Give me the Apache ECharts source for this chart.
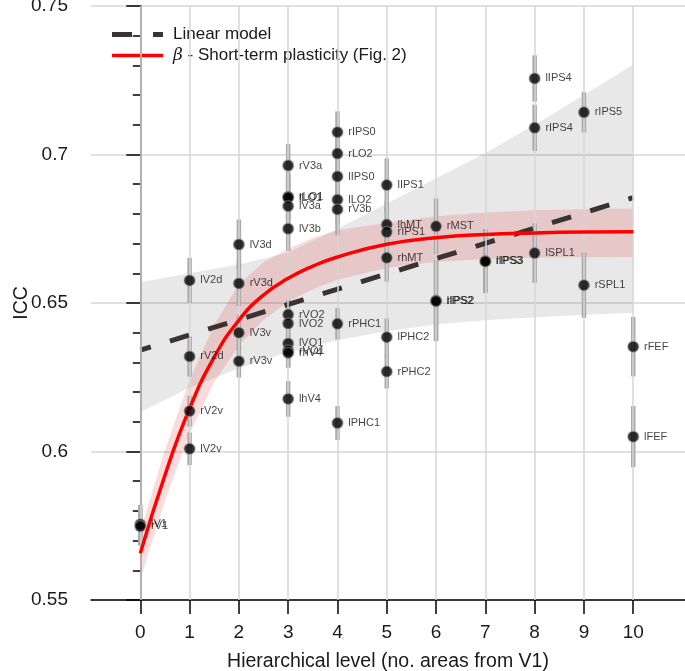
<!DOCTYPE html>
<html><head><meta charset="utf-8">
<script src="https://cdn.jsdelivr.net/npm/echarts@6/dist/echarts.min.js"></script>
<style>html,body{margin:0;padding:0;background:#fff}#c{width:685px;height:671px}</style>
</head><body><div id="c"></div>
<script>
// ---- data ----
const xTicks = [0,1,2,3,4,5,6,7,8,9,10];
const areaNames  = ['lV1','rV1','lV2d','rV2d','rV2v','lV2v','lV3d','rV3d','lV3v','rV3v',
  'rV3a','rLO1','lLO1','lV3a','lV3b','rVO2','lVO2','lVO1','rVO1','rhV4','lhV4',
  'rIPS0','rLO2','lIPS0','lLO2','rV3b','rPHC1','lPHC1',
  'lIPS1','lhMT','rIPS1','rhMT','lPHC2','rPHC2',
  'rMST','rIPS2','lIPS2','lIPS3','rIPS3',
  'lIPS4','rIPS4','lSPL1','rIPS5','rSPL1','rFEF','lFEF'];
const areaLevels = [0,0,1,1,1,1,2,2,2,2,
  3,3,3,3,3,3,3,3,3,3,3,
  4,4,4,4,4,4,4,
  5,5,5,5,5,5,
  6,6,6,7,7,
  8,8,8,9,9,10,10];
const areaICC = [0.5755,0.5748,0.6576,0.6320,0.6136,0.6009,0.6697,0.6566,0.6400,0.6304,
  0.6963,0.6858,0.6855,0.6826,0.6750,0.6461,0.6431,0.6364,0.6340,0.6332,0.6177,
  0.7075,0.7003,0.6926,0.6848,0.6815,0.6430,0.6096,
  0.6897,0.6764,0.6739,0.6652,0.6385,0.6269,
  0.6758,0.6508,0.6506,0.6641,0.6640,
  0.7256,0.7090,0.6668,0.7142,0.6560,0.6353,0.6050];
const areaCI = [0.0065,0.0065,0.0076,0.0068,0.0052,0.0055,0.0084,0.0076,0.0060,0.0055,
  0.0072,0.0075,0.0075,0.0075,0.0075,0.0050,0.0050,0.0050,0.0055,0.0050,0.0060,
  0.0070,0.0070,0.0070,0.0080,0.0087,0.0053,0.0057,
  0.0090,0.0080,0.0080,0.0080,0.0063,0.0057,
  0.0094,0.0137,0.0130,0.0108,0.0105,
  0.0078,0.0078,0.0100,0.0068,0.0110,0.0100,0.0103];
const linearX = [0, 10];
const linearY = [0.6341, 0.6855];
const linBandX = [0,1,2,3,4,5,6,7,8,9,10];
const linBandUpper = [0.6570,0.6600,0.6630,0.6670,0.6750,0.6835,0.6920,0.7005,0.7100,0.7200,0.7303];
const linBandLower = [0.6132,0.6215,0.6280,0.6335,0.6375,0.6405,0.6428,0.6442,0.6452,0.6460,0.6467];
const stpX     = [0,0.5,1,1.5,2,2.5,3,3.5,4,5,6,7,8,9,10];
const stpY     = [0.5657,0.5920,0.6145,0.6318,0.6442,0.6527,0.6583,0.6624,0.6655,0.6698,0.6720,0.6731,0.6736,0.6739,0.6740];
const stpUpper = [0.5730,0.6005,0.6240,0.6428,0.6562,0.6637,0.6683,0.6719,0.6745,0.6770,0.6792,0.6805,0.6812,0.6816,0.6818];
const stpLower = [0.5570,0.5835,0.6060,0.6233,0.6357,0.6444,0.6503,0.6546,0.6578,0.6618,0.6638,0.6648,0.6652,0.6654,0.6655];

const FONT = '"Liberation Sans", Arial, Helvetica, sans-serif';
const chart = echarts.init(document.getElementById('c'), null, {renderer:'canvas'});

function band(xs, up, lo, fill, z, extra) {
  return Object.assign({
    type: 'custom', z: z, silent: true, clip: true,
    data: [[xs[0], lo[0]]],
    renderItem: function (params, api) {
      const pts = [];
      for (let i = 0; i < xs.length; i++) pts.push(api.coord([xs[i], up[i]]));
      for (let i = xs.length - 1; i >= 0; i--) pts.push(api.coord([xs[i], lo[i]]));
      return {type: 'polygon', shape: {points: pts}, style: {fill: fill}};
    }
  }, extra || {});
}

const LEG2 = '{i|β} - Short-term plasticity (Fig. 2)';

chart.setOption({
  animation: false,
  textStyle: {fontFamily: FONT},
  grid: {left: 91, right: 0, top: 6, bottom: 71, outerBoundsMode: 'none', containLabel: false},
  legend: {
    left: 112, top: 26, padding: 0, orient: 'vertical', itemWidth: 51, itemHeight: 5, itemGap: 4,
    selectedMode: false,
    data: [
      {name: 'Linear model', icon: 'path://M0,0M0,5M0,0h20v5H0zM41,0h10v5H41z'},
      {name: 'STP', icon: 'path://M0,0M0,5M0,0.8h51v3.4H0z'}
    ],
    formatter: function (n) { return n === 'STP' ? LEG2 : n; },
    textStyle: {fontSize: 17, color: '#1a1a1a', fontFamily: FONT, padding: [0, 0, 0, 5],
      rich: {i: {fontSize: 17, fontStyle: 'italic', fontFamily: '"DejaVu Serif", serif', color: '#1a1a1a'}}}
  },
  xAxis: {
    type: 'value', min: -1, max: 11.05, interval: 1,
    name: 'Hierarchical level (no. areas from V1)', nameLocation: 'middle', nameGap: 52,
    nameMoveOverlap: false,
    nameTextStyle: {fontSize: 19.5, color: '#1a1a1a'},
    axisLine: {show: true, onZero: false, lineStyle: {color: '#000', width: 1.5}},
    axisTick: {show: true, length: 14, customValues: xTicks, lineStyle: {color: '#000', width: 1.5}},
    axisLabel: {customValues: xTicks, fontSize: 19, color: '#1a1a1a', margin: 23},
    splitLine: {show: false}
  },
  yAxis: {
    type: 'value', min: 0.55, max: 0.75, interval: 0.05,
    name: 'ICC', nameLocation: 'middle', nameGap: 59, nameRotate: 90,
    nameMoveOverlap: false,
    nameTextStyle: {fontSize: 19.5, color: '#1a1a1a'},
    axisLine: {show: true, lineStyle: {color: '#000', width: 1.5}},
    axisTick: {show: true, length: 14, lineStyle: {color: '#000', width: 1.5}},
    minorTick: {show: true, splitNumber: 5, length: 7.5, lineStyle: {color: '#000', width: 1.5}},
    axisLabel: {fontSize: 19, color: '#1a1a1a', margin: 23},
    splitLine: {show: true, lineStyle: {color: '#d6d6d6', width: 1.5}}
  },
  series: [
    band(linBandX, linBandUpper, linBandLower, 'rgba(0,0,0,0.09)', 1, {
      markLine: {silent: true, symbol: 'none', label: {show: false},
        lineStyle: {color: '#d6d6d6', width: 1.5, type: 'solid'},
        data: xTicks.map(v => ({xAxis: v}))}
    }),
    band(stpX, stpUpper, stpLower, 'rgba(220,0,0,0.14)', 2),
    {
      type: 'custom', z: 3, silent: true,
      data: areaLevels.map((x, i) => [x, areaICC[i] - areaCI[i], areaICC[i] + areaCI[i]]),
      encode: {x: 0, y: [1, 2]},
      renderItem: function (params, api) {
        const a = api.coord([api.value(0), api.value(1)]);
        const b = api.coord([api.value(0), api.value(2)]);
        return {type: 'line', shape: {x1: a[0], y1: a[1], x2: b[0], y2: b[1]},
          style: {stroke: '#aaaaaa', lineWidth: 4.5}};
      }
    },
    {
      name: 'Linear model', type: 'line', z: 4, symbol: 'none', silent: true,
      data: linearX.map((x, i) => [x, linearY[i]]),
      lineStyle: {color: '#3a3333', width: 5, type: [20, 20], dashOffset: 9, cap: 'butt'},
      itemStyle: {color: '#3a3333'}
    },
    {
      name: 'STP', type: 'line', z: 5, symbol: 'none', smooth: true, silent: true,
      data: stpX.map((x, i) => [x, stpY[i]]),
      lineStyle: {color: '#ff0000', width: 3.5},
      itemStyle: {color: '#ff0000'}
    },
    {
      type: 'scatter', z: 6, silent: true, symbolSize: 11,
      data: areaLevels.map((x, i) => ({value: [x, areaICC[i]], name: areaNames[i]})),
      itemStyle: {color: '#000', borderColor: 'rgba(150,150,150,0.6)', borderWidth: 1.5},
      label: {show: true, position: 'right', distance: 4.5, fontSize: 11, color: '#111',
        formatter: p => p.name}
    }
  ]
});
</script></body></html>
